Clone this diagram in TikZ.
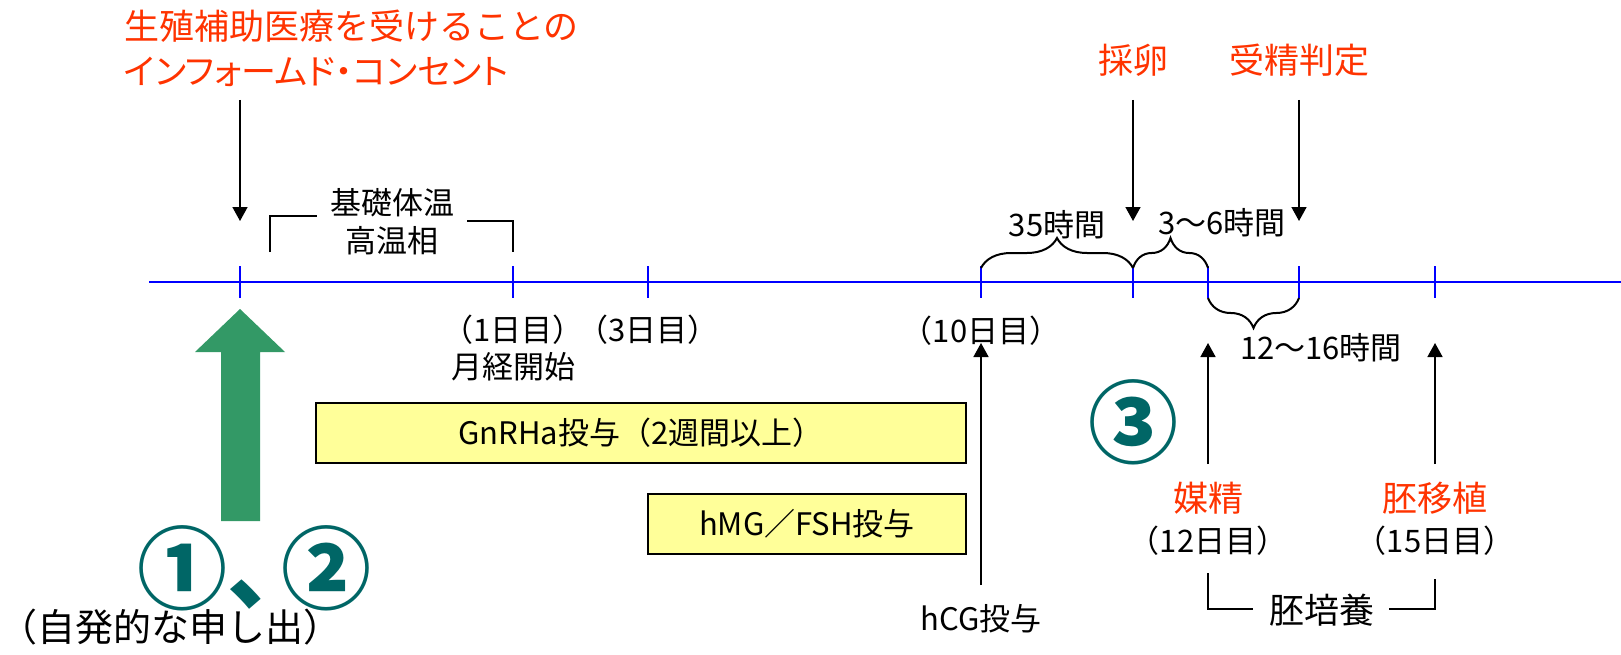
\documentclass[tikz,border=0pt]{standalone}
\usepackage{fontspec}
\setmainfont{Noto Sans CJK JP}
\newfontfamily\paltfont[RawFeature=+palt]{Noto Sans CJK JP}
\usetikzlibrary{calc,arrows.meta,decorations.pathreplacing,positioning}

\definecolor{ivfred}{RGB}{255,51,0}
\definecolor{ivfblue}{RGB}{0,0,255}
\definecolor{ivfgreen}{RGB}{51,153,102}
\definecolor{ivfteal}{RGB}{0,102,102}
\definecolor{ivfyellow}{RGB}{255,255,153}

\tikzset{
  lbl/.style={inner sep=0pt, font=\fontsize{31}{38}\selectfont},
  redlbl/.style={lbl, text=ivfred, font=\fontsize{35}{45}\selectfont},
  arr/.style={-{Triangle[length=14pt,width=15pt]}, line width=1.6pt},
  tline/.style={ivfblue, line width=2pt},
  brk/.style={line width=2pt},
  brc/.style={line width=2pt, decorate, decoration={brace, amplitude=30pt}},
  dosebox/.style={lbl, draw, line width=2pt, fill=ivfyellow},
  circnum/.style={inner sep=0pt, text=ivfteal, font=\bfseries\fontsize{90}{90}\selectfont},
}

\begin{document}
\begin{tikzpicture}[x=1pt,y=-1pt]
    \useasboundingbox (0,0) rectangle (1621,655);

    % time axis
    \coordinate (t0) at (240,282);
    \coordinate (t1) at (513,282);
    \coordinate (t3) at (648,282);
    \coordinate (t10) at (981,282);
    \coordinate (tsai) at (1133,282);
    \coordinate (t12) at (1208,282);
    \coordinate (tjud) at (1299,282);
    \coordinate (t15) at (1435,282);

    \draw[tline] (149,282) -- (1621,282);
    \foreach \t in {t0,t1,t3,t10,tsai,t12,tjud,t15}
      \draw[tline] (\t) ++(0,-16) -- ++(0,32);

    % top labels
    \node[redlbl, align=left, anchor=north west] (consent) at (124,10)
      {生殖補助医療を受けることの\\{\paltfont インフォームド・コンセント}};
    \node[redlbl] (sairan) at (1133,60) {採卵};
    \node[redlbl] (jusei) at (1299,60) {受精判定};

    \draw[arr] (t0) ++(0,-182) -- ++(0,121);
    \draw[arr] (tsai) ++(0,-182) -- ++(0,121);
    \draw[arr] (tjud) ++(0,-182) -- ++(0,121);

    \node[lbl, align=center] (kion) at (392,222) {基礎体温\\高温相};
    \draw[brk] (270,252) |- (317,216);
    \draw[brk] (467,221) -| (513,252);

    \draw[brc] ($(t10)+(0,-14)$) -- ($(tsai)+(0,-14)$);
    \draw[brc] ($(tsai)+(0,-14)$) -- ($(t12)+(0,-14)$);
    \node[lbl] (h35) at (1057,225) {35時間};
    \node[lbl] (h36) at (1222,223) {3～6時間};

    % below the axis
    \node[lbl] (day1) at (513,330) {（1日目）};
    \node[lbl] (day3) at (648,330) {（3日目）};
    \node[lbl] (mens) at (513,367) {月経開始};
    \node[lbl] (day10) at (981,331) {（10日目）};

    \node[dosebox, minimum width=650pt, minimum height=60pt] (gnrha) at (641,433) {GnRHa投与（2週間以上）};
    \node[dosebox, minimum width=318pt, minimum height=60pt] (hmg) at (807,524) {hMG／FSH投与};

    \node[lbl] (hcg) at (981,619) {hCG投与};
    \draw[arr] (t10) ++(0,303) -- ++(0,-242);

    % green arrow and numbers
    \fill[ivfgreen] (240,309) -- (285,352) -- (260,352) -- (260,521)
      -- (221,521) -- (221,352) -- (195,352) -- cycle;
    \node[circnum, anchor=west] (c12) at (137,568) {①、\kern-0.40em②};
    \node[lbl, font=\fontsize{38}{42}\selectfont] (jihatsu) at (170,627) {（自発的な申し出）};
    \node[circnum] (c3) at (1133,422) {③};

    % fertilisation and transfer
    \draw[brc] ($(tjud)+(0,16)$) -- ($(t12)+(0,16)$);
    \node[lbl] (h1216) at (1321,348) {12～16時間};

    \node[redlbl] (baisei) at (1208,498) {媒精};
    \node[redlbl] (iseki) at (1435,498) {胚移植};
    \node[lbl] (day12) at (1208,541) {（12日目）};
    \node[lbl] (day15) at (1435,541) {（15日目）};
    \draw[arr] (t12) ++(0,182) -- ++(0,-121);
    \draw[arr] (t15) ++(0,182) -- ++(0,-121);

    \node[lbl, font=\fontsize{35}{38}\selectfont] (baiyou) at (1322,610) {胚培養};
    \draw[brk] (1208,573) |- (1253,609);
    \draw[brk] (1389,609) -| (1435,579);
\end{tikzpicture}
\end{document}
